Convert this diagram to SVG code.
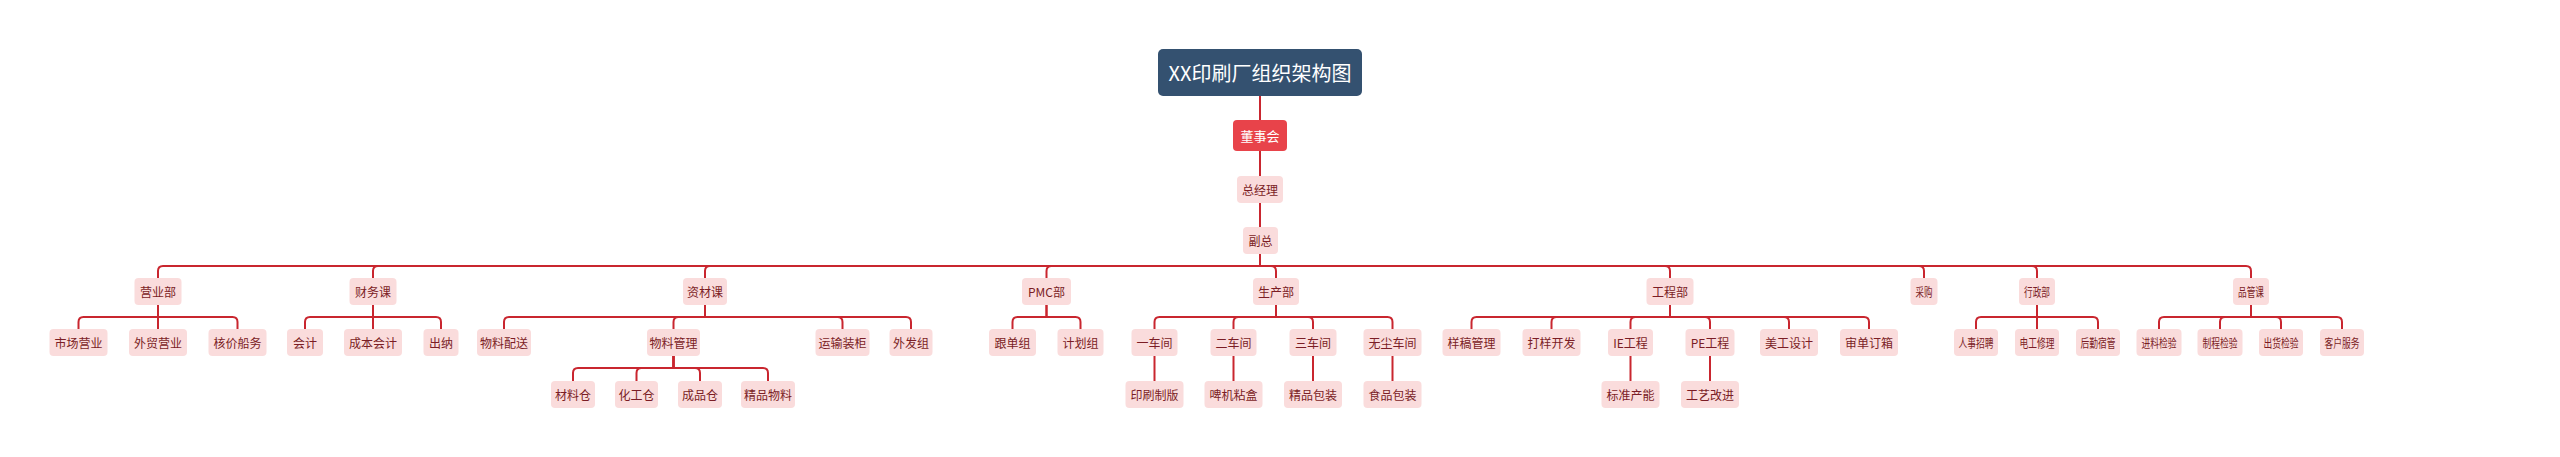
<svg xmlns="http://www.w3.org/2000/svg" width="2560" height="457" viewBox="0 0 2560 457">
<style>
.bg{fill:#ffffff}
.c path{fill:none;stroke:#c9262f;stroke-width:2;stroke-linejoin:round}
.n rect{fill:#fadcdc}
.n text{font-family:"Microsoft YaHei","Noto Sans CJK SC","Noto Sans",sans-serif;font-size:12px;fill:#7b1d25;text-anchor:middle;dominant-baseline:central}
#title rect{fill:#345170}
#title text{font-family:"Microsoft YaHei","Noto Sans CJK SC","Noto Sans",sans-serif;font-size:20px;fill:#ffffff;text-anchor:middle;dominant-baseline:central}
#board rect{fill:#e8434a}
#board text{fill:#ffffff;font-size:13px}
</style>
<rect class="bg" x="0" y="0" width="2560" height="457"/>
<g class="c" id="connectors">
<path d="M1260 96V120M1260 151V176M1260 203V227"/>
<path d="M1260 254V266H163Q158 266 158 271V278"/>
<path d="M1260 254V266H378Q373 266 373 271V278"/>
<path d="M1260 254V266H710Q705 266 705 271V278"/>
<path d="M1260 254V266H1051.5Q1046.5 266 1046.5 271V278"/>
<path d="M1260 254V266H1271Q1276 266 1276 271V278"/>
<path d="M1260 254V266H1665Q1670 266 1670 271V278"/>
<path d="M1260 254V266H1919Q1924 266 1924 271V278"/>
<path d="M1260 254V266H2032Q2037 266 2037 271V278"/>
<path d="M1260 254V266H2246Q2251 266 2251 271V278"/>
<path d="M158 305V317H83.5Q78.5 317 78.5 322V329"/>
<path d="M158 305V329"/>
<path d="M158 305V317H232.5Q237.5 317 237.5 322V329"/>
<path d="M373 305V317H310Q305 317 305 322V329"/>
<path d="M373 305V329"/>
<path d="M373 305V317H436Q441 317 441 322V329"/>
<path d="M705 305V317H509Q504 317 504 322V329"/>
<path d="M705 305V317H678.5Q673.5 317 673.5 322V329"/>
<path d="M705 305V317H837.5Q842.5 317 842.5 322V329"/>
<path d="M705 305V317H906Q911 317 911 322V329"/>
<path d="M1046.5 305V317H1017.5Q1012.5 317 1012.5 322V329"/>
<path d="M1046.5 305V317H1075.5Q1080.5 317 1080.5 322V329"/>
<path d="M1276 305V317H1159.5Q1154.5 317 1154.5 322V329"/>
<path d="M1276 305V317H1238.5Q1233.5 317 1233.5 322V329"/>
<path d="M1276 305V317H1308Q1313 317 1313 322V329"/>
<path d="M1276 305V317H1387.5Q1392.5 317 1392.5 322V329"/>
<path d="M1670 305V317H1476.5Q1471.5 317 1471.5 322V329"/>
<path d="M1670 305V317H1556.5Q1551.5 317 1551.5 322V329"/>
<path d="M1670 305V317H1635.5Q1630.5 317 1630.5 322V329"/>
<path d="M1670 305V317H1705Q1710 317 1710 322V329"/>
<path d="M1670 305V317H1784Q1789 317 1789 322V329"/>
<path d="M1670 305V317H1864Q1869 317 1869 322V329"/>
<path d="M2037 305V317H1981Q1976 317 1976 322V329"/>
<path d="M2037 305V329"/>
<path d="M2037 305V317H2093Q2098 317 2098 322V329"/>
<path d="M2251 305V317H2164Q2159 317 2159 322V329"/>
<path d="M2251 305V317H2225Q2220 317 2220 322V329"/>
<path d="M2251 305V317H2276Q2281 317 2281 322V329"/>
<path d="M2251 305V317H2337Q2342 317 2342 322V329"/>
<path d="M673.5 356V368H578Q573 368 573 373V381"/>
<path d="M673.5 356V368H641.5Q636.5 368 636.5 373V381"/>
<path d="M673.5 356V368H695Q700 368 700 373V381"/>
<path d="M673.5 356V368H763Q768 368 768 373V381"/>
<path d="M1154.5 356V381"/>
<path d="M1233.5 356V381"/>
<path d="M1313 356V381"/>
<path d="M1392.5 356V381"/>
<path d="M1630.5 356V381"/>
<path d="M1710 356V381"/>
</g>
<g id="title"><rect x="1158" y="49" width="204" height="47" rx="5"/><text x="1260" y="72.5">XX印刷厂组织架构图</text></g>
<g class="n" id="board"><rect x="1233" y="120" width="54" height="31" rx="4"/><text x="1260" y="135.5">董事会</text></g>
<g class="n" id="gm"><rect x="1237" y="176" width="46" height="27" rx="4"/><text x="1260" y="189.5">总经理</text></g>
<g class="n" id="vgm"><rect x="1243" y="227" width="35" height="27" rx="4"/><text x="1260.5" y="240.5">副总</text></g>

<g class="n" id="d1"><rect x="134.5" y="278" width="47" height="27" rx="4"/><text x="158" y="291.5">营业部</text></g>
<g class="n" id="d2"><rect x="349.5" y="278" width="47" height="27" rx="4"/><text x="373" y="291.5">财务课</text></g>
<g class="n" id="d3"><rect x="683" y="278" width="44" height="27" rx="4"/><text x="705" y="291.5">资材课</text></g>
<g class="n" id="d4"><rect x="1022" y="278" width="49" height="27" rx="4"/><text x="1046.5" y="291.5">PMC部</text></g>
<g class="n" id="d5"><rect x="1253" y="278" width="46" height="27" rx="4"/><text x="1276" y="291.5">生产部</text></g>
<g class="n" id="d6"><rect x="1646.5" y="278" width="47" height="27" rx="4"/><text x="1670" y="291.5">工程部</text></g>
<g class="n" id="d7"><rect x="1910.5" y="278" width="27" height="27" rx="4"/><text x="1924" y="291.5" textLength="17" lengthAdjust="spacingAndGlyphs">采购</text></g>
<g class="n" id="d8"><rect x="2019" y="278" width="36" height="27" rx="4"/><text x="2037" y="291.5" textLength="26" lengthAdjust="spacingAndGlyphs">行政部</text></g>
<g class="n" id="d9"><rect x="2233" y="278" width="36" height="27" rx="4"/><text x="2251" y="291.5" textLength="26" lengthAdjust="spacingAndGlyphs">品管课</text></g>

<g class="n" id="s1"><rect x="49.5" y="329" width="58" height="27" rx="4"/><text x="78.5" y="342.5">市场营业</text></g>
<g class="n" id="s2"><rect x="129" y="329" width="58" height="27" rx="4"/><text x="158" y="342.5">外贸营业</text></g>
<g class="n" id="s3"><rect x="208.5" y="329" width="58" height="27" rx="4"/><text x="237.5" y="342.5">核价船务</text></g>
<g class="n" id="s4"><rect x="287" y="329" width="36" height="27" rx="4"/><text x="305" y="342.5">会计</text></g>
<g class="n" id="s5"><rect x="344" y="329" width="58" height="27" rx="4"/><text x="373" y="342.5">成本会计</text></g>
<g class="n" id="s6"><rect x="423.5" y="329" width="35" height="27" rx="4"/><text x="441" y="342.5">出纳</text></g>
<g class="n" id="s7"><rect x="477" y="329" width="54" height="27" rx="4"/><text x="504" y="342.5">物料配送</text></g>
<g class="n" id="s8"><rect x="647" y="329" width="53" height="27" rx="4"/><text x="673.5" y="342.5">物料管理</text></g>
<g class="n" id="s9"><rect x="815.5" y="329" width="54" height="27" rx="4"/><text x="842.5" y="342.5">运输装柜</text></g>
<g class="n" id="s10"><rect x="889.5" y="329" width="43" height="27" rx="4"/><text x="911" y="342.5">外发组</text></g>
<g class="n" id="s11"><rect x="989" y="329" width="47" height="27" rx="4"/><text x="1012.5" y="342.5">跟单组</text></g>
<g class="n" id="s12"><rect x="1057.5" y="329" width="46" height="27" rx="4"/><text x="1080.5" y="342.5">计划组</text></g>
<g class="n" id="s13"><rect x="1131.5" y="329" width="46" height="27" rx="4"/><text x="1154.5" y="342.5">一车间</text></g>
<g class="n" id="s14"><rect x="1210.5" y="329" width="46" height="27" rx="4"/><text x="1233.5" y="342.5">二车间</text></g>
<g class="n" id="s15"><rect x="1289.5" y="329" width="47" height="27" rx="4"/><text x="1313" y="342.5">三车间</text></g>
<g class="n" id="s16"><rect x="1363.5" y="329" width="58" height="27" rx="4"/><text x="1392.5" y="342.5">无尘车间</text></g>
<g class="n" id="s17"><rect x="1442.5" y="329" width="58" height="27" rx="4"/><text x="1471.5" y="342.5">样稿管理</text></g>
<g class="n" id="s18"><rect x="1522.5" y="329" width="58" height="27" rx="4"/><text x="1551.5" y="342.5">打样开发</text></g>
<g class="n" id="s19"><rect x="1608" y="329" width="45" height="27" rx="4"/><text x="1630.5" y="342.5">IE工程</text></g>
<g class="n" id="s20"><rect x="1685.5" y="329" width="49" height="27" rx="4"/><text x="1710" y="342.5">PE工程</text></g>
<g class="n" id="s21"><rect x="1760" y="329" width="58" height="27" rx="4"/><text x="1789" y="342.5">美工设计</text></g>
<g class="n" id="s22"><rect x="1840" y="329" width="58" height="27" rx="4"/><text x="1869" y="342.5">审单订箱</text></g>
<g class="n" id="s23"><rect x="1954" y="329" width="44" height="27" rx="4"/><text x="1976" y="342.5" textLength="35" lengthAdjust="spacingAndGlyphs">人事招聘</text></g>
<g class="n" id="s24"><rect x="2015" y="329" width="44" height="27" rx="4"/><text x="2037" y="342.5" textLength="35" lengthAdjust="spacingAndGlyphs">电工修理</text></g>
<g class="n" id="s25"><rect x="2076" y="329" width="44" height="27" rx="4"/><text x="2098" y="342.5" textLength="35" lengthAdjust="spacingAndGlyphs">后勤宿管</text></g>
<g class="n" id="s26"><rect x="2136.5" y="329" width="45" height="27" rx="4"/><text x="2159" y="342.5" textLength="35" lengthAdjust="spacingAndGlyphs">进料检验</text></g>
<g class="n" id="s27"><rect x="2197.5" y="329" width="45" height="27" rx="4"/><text x="2220" y="342.5" textLength="35" lengthAdjust="spacingAndGlyphs">制程检验</text></g>
<g class="n" id="s28"><rect x="2259" y="329" width="44" height="27" rx="4"/><text x="2281" y="342.5" textLength="35" lengthAdjust="spacingAndGlyphs">出货检验</text></g>
<g class="n" id="s29"><rect x="2320" y="329" width="44" height="27" rx="4"/><text x="2342" y="342.5" textLength="35" lengthAdjust="spacingAndGlyphs">客户服务</text></g>

<g class="n" id="t1"><rect x="551" y="381" width="44" height="27" rx="4"/><text x="573" y="394.5">材料仓</text></g>
<g class="n" id="t2"><rect x="615" y="381" width="43" height="27" rx="4"/><text x="636.5" y="394.5">化工仓</text></g>
<g class="n" id="t3"><rect x="678" y="381" width="44" height="27" rx="4"/><text x="700" y="394.5">成品仓</text></g>
<g class="n" id="t4"><rect x="741" y="381" width="54" height="27" rx="4"/><text x="768" y="394.5">精品物料</text></g>
<g class="n" id="t5"><rect x="1125.5" y="381" width="58" height="27" rx="4"/><text x="1154.5" y="394.5">印刷制版</text></g>
<g class="n" id="t6"><rect x="1204.5" y="381" width="58" height="27" rx="4"/><text x="1233.5" y="394.5">啤机粘盒</text></g>
<g class="n" id="t7"><rect x="1284" y="381" width="58" height="27" rx="4"/><text x="1313" y="394.5">精品包装</text></g>
<g class="n" id="t8"><rect x="1363.5" y="381" width="58" height="27" rx="4"/><text x="1392.5" y="394.5">食品包装</text></g>
<g class="n" id="t9"><rect x="1601.5" y="381" width="58" height="27" rx="4"/><text x="1630.5" y="394.5">标准产能</text></g>
<g class="n" id="t10"><rect x="1681" y="381" width="58" height="27" rx="4"/><text x="1710" y="394.5">工艺改进</text></g>
</svg>
